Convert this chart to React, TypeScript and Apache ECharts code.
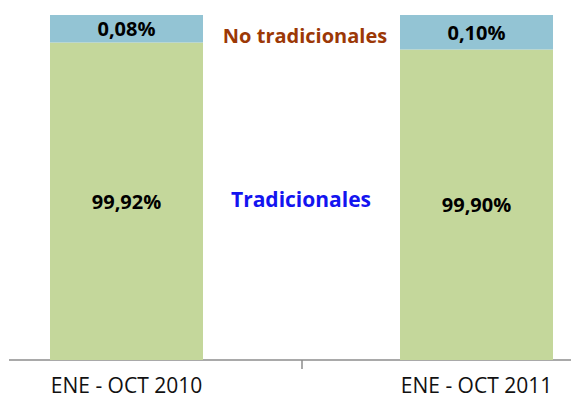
import React, { useEffect, useRef } from "react";
import * as echarts from "echarts";

const categories = ["ENE - OCT 2010", "ENE - OCT 2011"];
const traditionalShare = [99.92, 99.9];
const nonTraditionalShare = [0.08, 0.1];
const annotationTop = "No tradicionales";
const annotationMid = "Tradicionales";

const fmt = (v: number) => v.toFixed(2).replace(".", ",") + "%";
const FONT = "'Open Sans', 'Noto Sans', sans-serif";

export default function App() {
  const ref = useRef<HTMLDivElement>(null);
  useEffect(() => {
    if (!ref.current) return;
    const chart = echarts.init(ref.current, null, { renderer: "svg" });
    const barLabel = {
      show: true,
      position: "inside",
      formatter: (p: any) => fmt(p.value),
      color: "#000",
      fontSize: 20,
      fontWeight: "bold",
      fontFamily: FONT,
    };
    chart.setOption({
      animation: false,
      backgroundColor: "#ffffff",
      grid: {
        left: -48.5,
        right: -80.5,
        top: 15,
        bottom: 41,
        containLabel: false,
        outerBoundsMode: "none",
      },
      xAxis: {
        type: "category",
        data: categories,
        axisLine: { show: false },
        axisTick: { show: true, length: 9, lineStyle: { color: "#8c8c8c", width: 1.5 } },
        axisLabel: { color: "#111", fontSize: 21, fontFamily: FONT, margin: 14 },
      },
      yAxis: { type: "value", min: 99, max: 100, show: false, splitLine: { show: false } },
      series: [
        {
          type: "bar",
          stack: "s",
          data: traditionalShare,
          barWidth: 153,
          itemStyle: { color: "#c4d79b" },
          label: barLabel,
        },
        {
          type: "bar",
          stack: "s",
          data: nonTraditionalShare,
          barWidth: 153,
          itemStyle: { color: "#93c4d4" },
          label: barLabel,
        },
      ],
      graphic: [
        {
          type: "line",
          shape: { x1: 9, y1: 360, x2: 571, y2: 360 },
          style: { stroke: "#8c8c8c", lineWidth: 1.5 },
        },
        {
          type: "text",
          x: 305,
          y: 35,
          style: {
            text: annotationTop,
            fill: "#9c3806",
            font: `bold 20px ${FONT}`,
            textAlign: "center",
            textVerticalAlign: "middle",
          },
        },
        {
          type: "text",
          x: 301,
          y: 199,
          style: {
            text: annotationMid,
            fill: "#1414f0",
            font: `bold 21px ${FONT}`,
            textAlign: "center",
            textVerticalAlign: "middle",
          },
        },
      ],
    });
    return () => chart.dispose();
  }, []);
  return (
    <div
      ref={ref}
      style={{ position: "fixed", left: 0, top: 0, width: 571, height: 401, background: "#fff" }}
    />
  );
}
